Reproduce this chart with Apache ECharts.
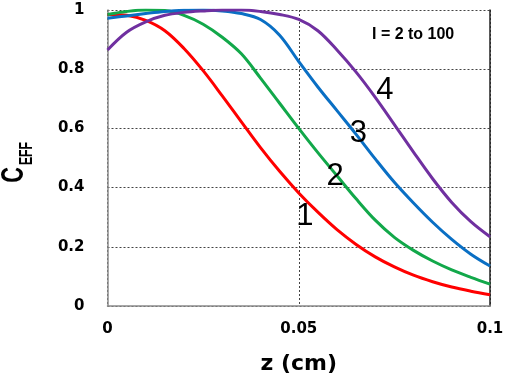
<!DOCTYPE html>
<html>
<head>
<meta charset="utf-8">
<script src="https://cdn.jsdelivr.net/npm/echarts@6/dist/echarts.min.js"></script>
<style>
  html, body { margin: 0; padding: 0; background: #fff; }
  #main { width: 510px; height: 380px; }
</style>
</head>
<body>
<div id="main"></div>
<script>
// z positions (cm)
var zValues = [0, 0.005, 0.01, 0.015, 0.02, 0.025, 0.03, 0.035, 0.04, 0.045, 0.05,
  0.055, 0.06, 0.065, 0.07, 0.075, 0.08, 0.085, 0.09, 0.095, 0.1];

// C_EFF for each curve
var curve1 = [0.985, 0.982, 0.965, 0.93, 0.87, 0.795, 0.71, 0.622, 0.535, 0.455, 0.382,
  0.317, 0.258, 0.208, 0.166, 0.132, 0.104, 0.082, 0.064, 0.05, 0.038];
var curve2 = [0.985, 0.995, 1.0, 0.998, 0.982, 0.952, 0.908, 0.852, 0.77, 0.685, 0.6,
  0.518, 0.44, 0.362, 0.29, 0.232, 0.188, 0.152, 0.122, 0.097, 0.074];
var curve3 = [0.972, 0.98, 0.988, 0.995, 0.999, 1.0, 0.997, 0.988, 0.968, 0.915, 0.826,
  0.74, 0.66, 0.58, 0.497, 0.418, 0.348, 0.283, 0.225, 0.175, 0.135];
var curve4 = [0.865, 0.925, 0.96, 0.982, 0.992, 0.997, 1.0, 1.0, 0.995, 0.985, 0.968,
  0.93, 0.865, 0.79, 0.705, 0.613, 0.52, 0.43, 0.35, 0.285, 0.234];

var curveNames = ['1', '2', '3', '4'];
var curveColors = ['#ff0000', '#12a84a', '#0a6fc4', '#7030a0'];
// where the curve number sits, in data units [z, C]
var labelPos = [[0.0516, 0.304], [0.0595, 0.437], [0.0656, 0.583], [0.0725, 0.728]];

var xTicks = [0, 0.05, 0.1];

var allCurves = [curve1, curve2, curve3, curve4];

var chart = echarts.init(document.getElementById('main'));

var series = allCurves.map(function (vals, i) {
  return {
    name: curveNames[i],
    type: 'line',
    smooth: 0.35,
    showSymbol: false,
    data: zValues.map(function (z, k) { return [z, vals[k]]; }),
    lineStyle: { color: curveColors[i], width: 3 },
    itemStyle: { color: curveColors[i] },
    markPoint: {
      symbol: 'circle',
      symbolSize: 2,
      itemStyle: { color: 'rgba(0,0,0,0)' },
      label: {
        show: true,
        position: 'inside',
        formatter: curveNames[i],
        color: '#000',
        fontFamily: 'Liberation Sans, Arial',
        fontSize: 31
      },
      data: [{ coord: labelPos[i] }]
    },
    z: 3
  };
});

chart.setOption({
  animation: false,
  grid: { left: 107.5, right: 20, top: 10, bottom: 74, outerBoundsMode: 'none' },
  xAxis: {
    type: 'value',
    min: 0, max: 0.1, interval: 0.05,
    name: 'z (cm)',
    nameLocation: 'middle',
    nameGap: 47,
    nameTextStyle: { fontFamily: 'DejaVu Sans', fontWeight: 'bold', fontSize: 22, color: '#000' },
    axisLine: { show: true, lineStyle: { color: '#8a8a8a', width: 1.5 } },
    axisTick: { show: false },
    axisLabel: {
      margin: 16,
      fontFamily: 'DejaVu Sans', fontWeight: 'bold', fontSize: 15, color: '#000',
      formatter: function (v) { return xTicks.indexOf(v) >= 0 ? String(v) : ''; }
    },
    splitLine: { show: true, lineStyle: { color: '#444', type: [2, 2], width: 1 } }
  },
  yAxis: [{
    type: 'value',
    min: 0, max: 1, interval: 0.2,
    axisLine: { show: true, lineStyle: { color: '#8a8a8a', width: 1.5 } },
    axisTick: { show: false },
    axisLabel: {
      margin: 23,
      fontFamily: 'DejaVu Sans', fontWeight: 'bold', fontSize: 15, color: '#000',
      formatter: function (v) { return String(Math.round(v * 10) / 10); }
    },
    splitLine: { show: true, lineStyle: { color: '#444', type: [2, 2], width: 1 } }
  }, {
    type: 'value',
    position: 'right',
    min: 0, max: 1,
    axisLine: { show: true, lineStyle: { color: '#222', width: 1.5 } },
    axisTick: { show: false },
    axisLabel: { show: false },
    splitLine: { show: false }
  }],
  graphic: [{
    type: 'text',
    left: 372,
    top: 27,
    style: {
      text: 'I = 2 to 100',
      fontFamily: 'Liberation Sans, Arial',
      fontWeight: 'bold',
      fontSize: 16,
      fill: '#000'
    }
  }, {
    // y-axis title, C with subscript EFF, rotated and a bit condensed
    type: 'text',
    x: 14, y: 175,
    rotation: Math.PI / 2,
    scaleX: 0.68,
    style: {
      text: 'C',
      fontFamily: 'Liberation Sans, Arial',
      fontWeight: 'bold',
      fontSize: 32,
      fill: '#000',
      align: 'center',
      verticalAlign: 'middle'
    }
  }, {
    type: 'text',
    x: 27, y: 153.5,
    rotation: Math.PI / 2,
    scaleX: 0.68,
    style: {
      text: 'EFF',
      fontFamily: 'Liberation Sans, Arial',
      fontWeight: 'bold',
      fontSize: 18,
      fill: '#000',
      align: 'center',
      verticalAlign: 'middle'
    }
  }],
  series: series
});
</script>
</body>
</html>
